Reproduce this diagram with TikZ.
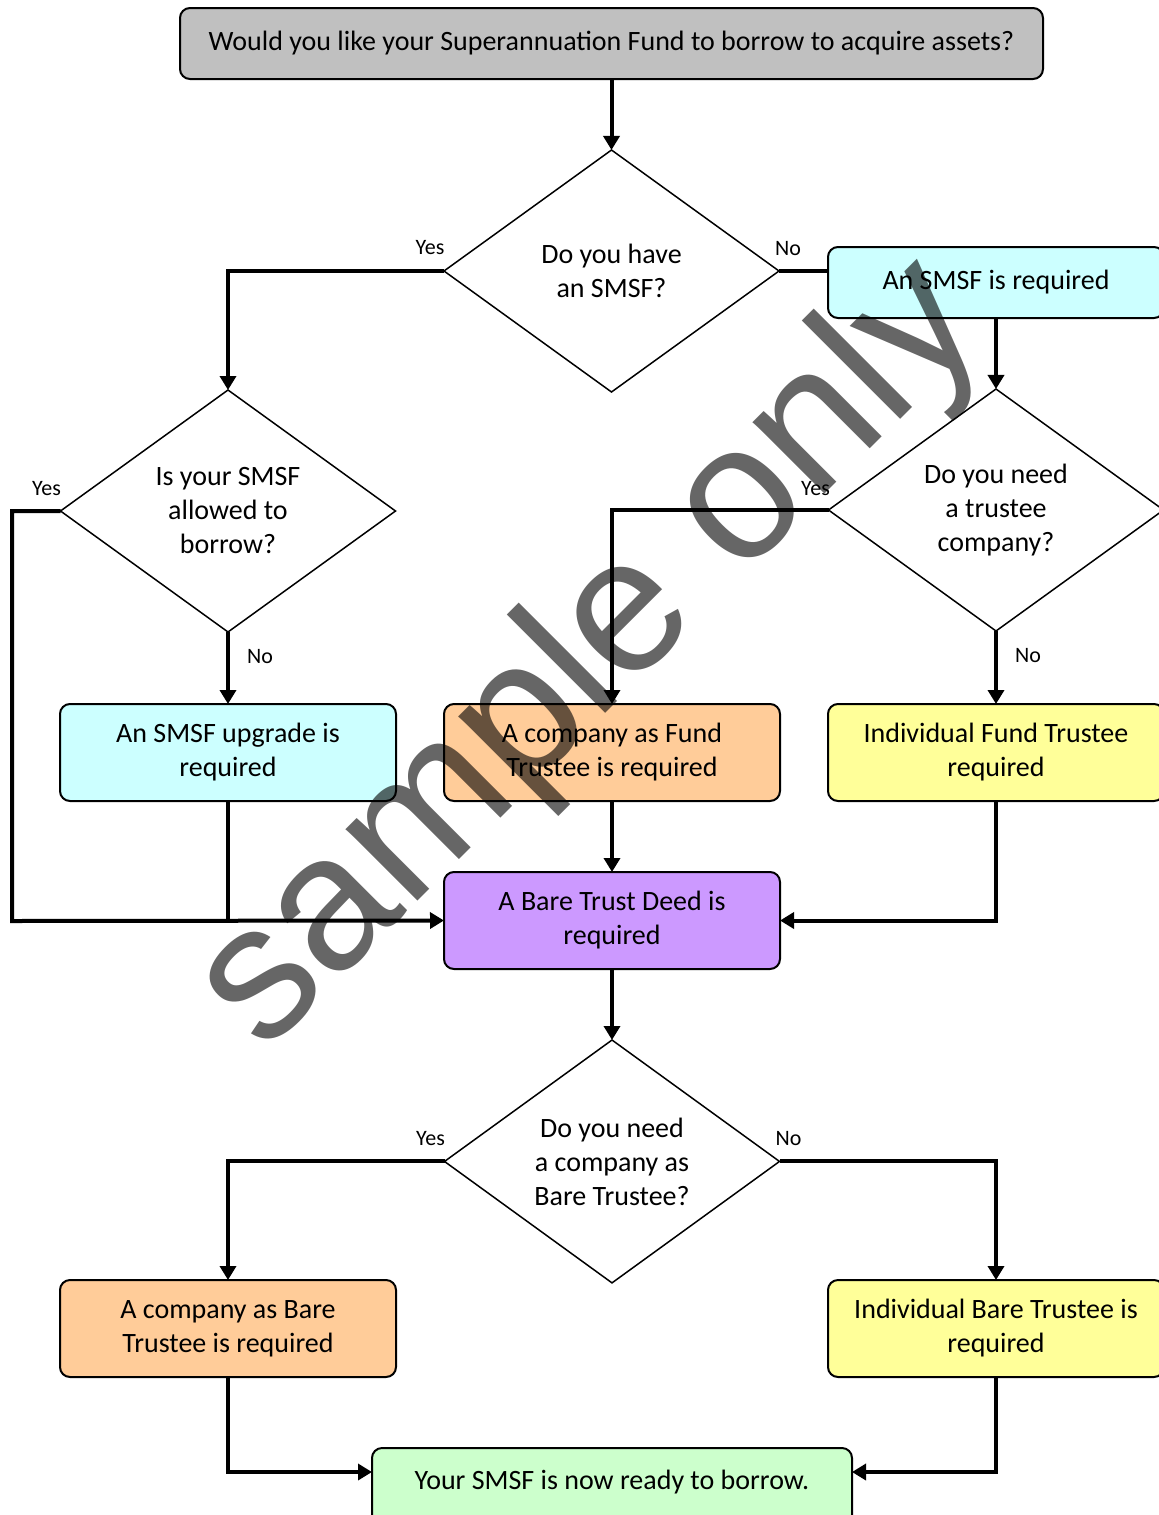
\documentclass[tikz,border=0pt]{standalone}
\usepackage{fontspec}
\setmainfont{Carlito}
\newfontfamily\wmfont{Liberation Sans}
\usetikzlibrary{arrows.meta,positioning,shapes.geometric}

\definecolor{topgray}{HTML}{C0C0C0}
\definecolor{cyanbox}{HTML}{CCFFFF}
\definecolor{orangebox}{HTML}{FFCC99}
\definecolor{yellowbox}{HTML}{FFFF99}
\definecolor{purplebox}{HTML}{CC99FF}
\definecolor{greenbox}{HTML}{CCFFCC}

\begin{document}
\begin{tikzpicture}[
  x=0.5pt, y=-0.5pt,
  node distance=35.5pt,
  >={Triangle[length=7pt,width=8pt]},
  box/.style={draw, line width=1pt, outer sep=0pt, rounded corners=5pt, align=center, minimum width=168pt, minimum height=48.5pt, inner sep=2pt, font=\fontsize{14}{17}\selectfont},
  ask/.style={draw, diamond, line width=0.75pt, outer sep=0pt, minimum width=167.5pt, minimum height=121pt, inner sep=0pt, align=center, font=\fontsize{14}{17}\selectfont},
  lbl/.style={inner sep=0pt, font=\fontsize{11}{13}\selectfont},
  link/.style={line width=2pt},
]
\clip (0,0) rectangle (1159,1515);
% middle column, top down
\node[box, fill=topgray, minimum width=431.5pt, minimum height=35.5pt] (top) at (611.5,43.5) {Would you like your Superannuation Fund to borrow to acquire assets?};
\node[ask, below=of top] (havesmsf) {Do you have\\an SMSF?};
\node[box, fill=cyanbox, minimum height=35.5pt] (smsfreq) at (996,282.5) {An SMSF is required};
\node[ask] (allowed) at (228,511) {Is your SMSF\\allowed to\\borrow?};
\node[ask] (needco) at (996,510) {Do you need\\a trustee\\company?};
\node[box, fill=cyanbox] (upgrade) at (228,752.5) {An SMSF upgrade is\\required};
\node[box, fill=orangebox] (cofund) at (612,752.5) {A company as Fund\\Trustee is required};
\node[box, fill=yellowbox] (indfund) at (996,752.5) {Individual Fund Trustee\\required};
\node[box, fill=purplebox, below=of cofund] (bare) {A Bare Trust Deed is\\required};
\node[ask, below=of bare] (needbare) {Do you need\\a company as\\Bare Trustee?};
\node[box, fill=orangebox] (cobare) at (228,1328.5) {A company as Bare\\Trustee is required};
\node[box, fill=yellowbox] (indbare) at (996,1328.5) {Individual Bare Trustee is\\required};
\node[box, fill=greenbox, minimum width=240pt, minimum height=0pt, inner ysep=0pt, text height=20.5pt, text depth=28pt] (ready) at (612,1496.5) {Your SMSF is now ready to borrow.};
\coordinate (leftrail) at (12,921);
% connectors
\draw[link,->] (top) -- (havesmsf);
\draw[link,->] (havesmsf.west) -| (allowed.north);
\draw[link] (havesmsf.east) -- (havesmsf.east -| smsfreq.west);
\draw[link,->] (smsfreq) -- (needco);
\draw[link,->] (allowed.west) -| (leftrail) -- (bare.west);
\draw[link,->] (allowed) -- (upgrade);
\draw[link] (upgrade.south) -- (upgrade.south |- bare.west);
\draw[link,->] (needco.west) -| (cofund.north);
\draw[link,->] (needco) -- (indfund);
\draw[link,->] (cofund) -- (bare);
\draw[link,->] (indfund.south) |- (bare.east);
\draw[link,->] (bare) -- (needbare);
\draw[link,->] (needbare.west) -| (cobare.north);
\draw[link,->] (needbare.east) -| (indbare.north);
\draw[link,->] (cobare.south) |- ([yshift=12.25pt]ready.west);
\draw[link,->] (indbare.south) |- ([yshift=12.25pt]ready.east);
% yes / no labels
\node[lbl] at ([shift={(-7pt,11.5pt)}]havesmsf.west) {Yes};
\node[lbl] at ([shift={(4.5pt,11pt)}]havesmsf.east) {No};
\node[lbl] at ([shift={(-7pt,11pt)}]allowed.west) {Yes};
\node[lbl] at ([shift={(16pt,-12.5pt)}]allowed.south) {No};
\node[lbl] at ([shift={(-6.5pt,10.5pt)}]needco.west) {Yes};
\node[lbl] at ([shift={(16pt,-12.5pt)}]needco.south) {No};
\node[lbl] at ([shift={(-7pt,11.5pt)}]needbare.west) {Yes};
\node[lbl] at ([shift={(4.5pt,11.5pt)}]needbare.east) {No};
% watermark
\node[font=\wmfont\fontsize{96}{96}\selectfont, text=black, text opacity=0.6, rotate=45] (wm) at (592,657) {sample only};
\end{tikzpicture}
\end{document}
